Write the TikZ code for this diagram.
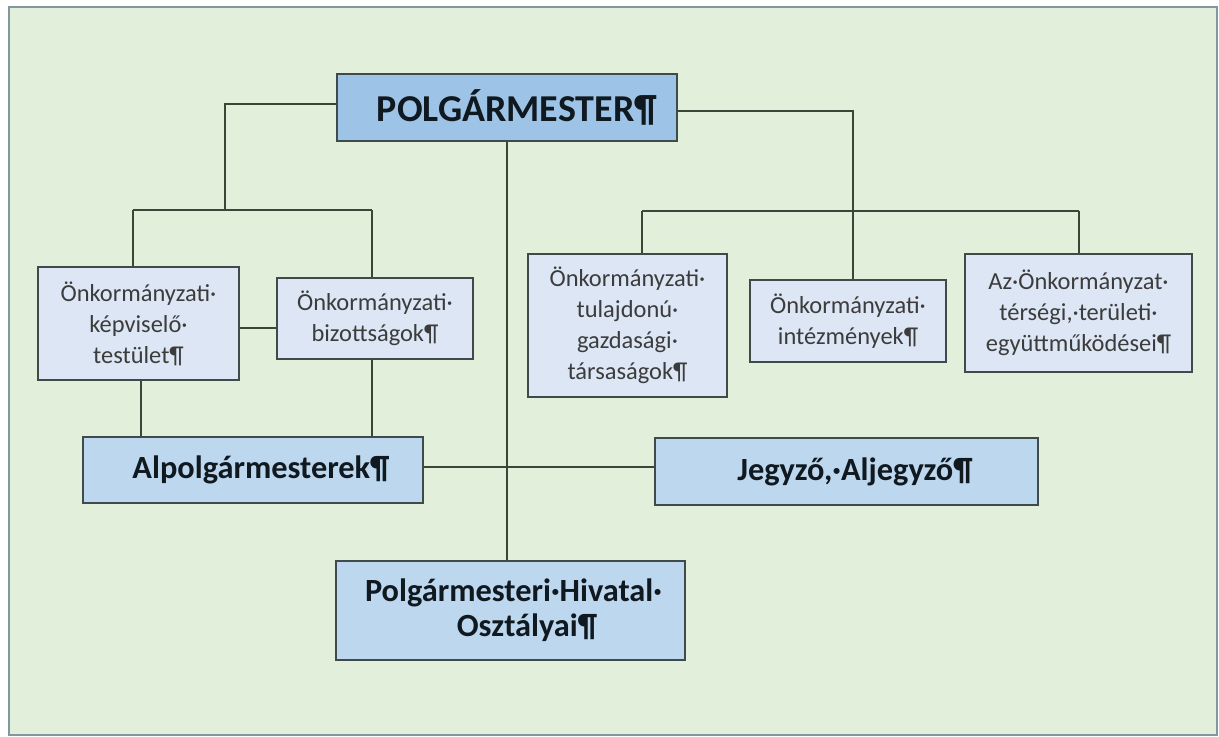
\documentclass[tikz,border=0pt]{standalone}
\usepackage{fontspec}
\setmainfont{Carlito}
\definecolor{bgGreen}{HTML}{E2EFDA}
\definecolor{frameCol}{HTML}{8497A0}
\definecolor{lightBlue}{HTML}{DCE6F4}
\definecolor{midBlue}{HTML}{BDD7EE}
\definecolor{darkBlue}{HTML}{9DC3E6}
\definecolor{lineCol}{HTML}{3A4638}
\definecolor{boxBorder}{HTML}{3F4A4A}
\definecolor{txtGray}{HTML}{3C3C3C}
\definecolor{txtDark}{HTML}{101820}
\begin{document}
\begin{tikzpicture}[x=0.01cm,y=-0.01cm,
  lightbox/.style={draw=boxBorder, line width=0.45pt, fill=lightBlue, align=center,
    font=\fontsize{6.95}{8.8}\selectfont, text=txtGray, inner sep=0pt},
  boldbox/.style={draw=boxBorder, line width=0.45pt, fill=midBlue, align=center,
    font=\fontsize{9.2}{10}\selectfont\bfseries, text=txtDark, inner sep=0pt},
  conn/.style={draw=lineCol, line width=0.4pt}]
\useasboundingbox (0,0) rectangle (1219,736);
\fill[white] (0,0) rectangle (1219,736);
\draw[fill=bgGreen, draw=frameCol, line width=0.6pt] (9,7) rectangle (1217,735);

% nodes
\node[boldbox, fill=darkBlue, minimum width=34mm, minimum height=6.7mm,
  font=\fontsize{10.8}{12}\selectfont\bfseries] (pm) at (507,107.5) {\hspace{2mm}POLGÁRMESTER¶};
\node[lightbox, minimum width=20.1mm, minimum height=11.3mm] (kt) at (138.5,323.5)
  {Önkormányzati·\\képviselő·\\testület¶};
\node[lightbox, minimum width=19.6mm, minimum height=8.1mm] (biz) at (375,318.5)
  {Önkormányzati·\\bizottságok¶};
\node[lightbox, minimum width=19.9mm, minimum height=14.3mm] (gt) at (627.5,325.5)
  {Önkormányzati·\\tulajdonú·\\gazdasági·\\társaságok¶};
\node[lightbox, minimum width=19.6mm, minimum height=8.2mm] (int) at (848,321)
  {Önkormányzati·\\intézmények¶};
\node[lightbox, minimum width=22.7mm, minimum height=11.8mm] (egy) at (1078.5,313)
  {Az·Önkormányzat·\\térségi,·területi·\\együttműködései¶};
\node[boldbox, minimum width=34mm, minimum height=6.6mm] (alp) at (253,470)
  {\hspace{1.6mm}Alpolgármesterek¶};
\node[boldbox, minimum width=38.3mm, minimum height=6.7mm] (jegy) at (846.5,471.5)
  {\hspace{1.7mm}Jegyző,·Aljegyző¶};
\node[boldbox, minimum width=34.9mm, minimum height=9.9mm] (hiv) at (510.5,610.5)
  {\hspace{0.6mm}Polgármesteri·Hivatal·\\\hspace{3.3mm}Osztályai¶};

% helper coordinates
\coordinate (l1) at (225,104);
\coordinate (l2) at (225,210);
\coordinate (ka) at (133,210);
\coordinate (kb) at (372,210);
\coordinate (r1) at (853,111);
\coordinate (ra) at (642,211);
\coordinate (rb) at (1079,211);
\coordinate (m1) at (258,328);
\coordinate (c1) at (141,400);
\coordinate (c2) at (372,400);
\coordinate (h1) at (507,467);

% connectors
\draw[conn] (pm.west |- l1) -- (l1) -- (l2);
\draw[conn] (ka) -- (kb);
\draw[conn] (ka) -- (kt.north -| ka);
\draw[conn] (kb) -- (biz.north -| kb);
\draw[conn] (pm.east |- r1) -- (r1) -- (int.north -| r1);
\draw[conn] (ra) -- (rb);
\draw[conn] (ra) -- (gt.north -| ra);
\draw[conn] (rb) -- (egy.north -| rb);
\draw[conn] (pm.south) -- (hiv.north -| pm.south);
\draw[conn] (kt.east |- m1) -- (biz.west |- m1);
\draw[conn] (kt.south -| c1) -- (alp.north -| c1);
\draw[conn] (biz.south -| c2) -- (alp.north -| c2);
\draw[conn] (alp.east |- h1) -- (jegy.west |- h1);
\end{tikzpicture}
\end{document}
